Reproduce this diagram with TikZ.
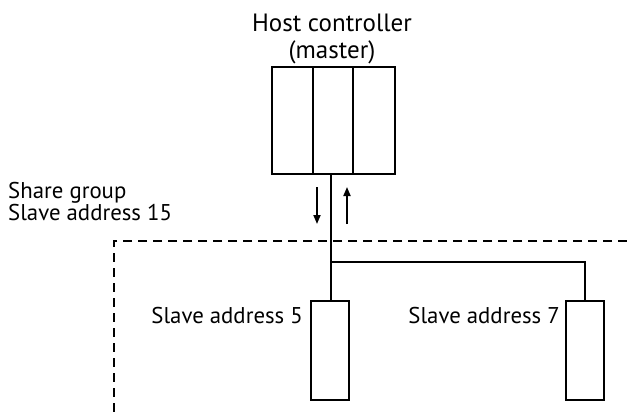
\documentclass[tikz,border=0pt]{standalone}
\usepackage{fontspec}
\setmainfont{PT Sans}
\usetikzlibrary{arrows.meta}
\tikzset{
  box/.style={draw, line width=2.2pt, minimum width=38pt, minimum height=99pt, inner sep=0pt, anchor=north},
  hostbox/.style={draw, line width=2.2pt, minimum width=123pt, minimum height=107pt, inner sep=0pt, anchor=north},
  lbl/.style={font=\fontsize{22.8}{22}\selectfont, inner sep=0pt},
  hlbl/.style={font=\fontsize{25}{26}\selectfont, inner sep=0pt},
  wire/.style={line width=2.2pt},
  flow/.style={line width=1.8pt, -{Triangle[length=9pt,width=7pt]}},
  grp/.style={line width=2.2pt, dash pattern=on 9pt off 6pt}
}
\begin{document}
\begin{tikzpicture}[x=1pt,y=-1pt]
\useasboundingbox (0,0) rectangle (627,418);
\node[hostbox] (host) at (333.5,66) {};
\draw[wire] (313,66) -- (313,173);
\draw[wire] (353,66) -- (353,173);
\node[hlbl, anchor=base] (hostlbl1) at (332,31) {Host controller};
\node[hlbl, anchor=base] (hostlbl2) at (332,58) {(master)};
\node[box] (s5) at (330,300) {};
\node[box] (s7) at (585,300) {};
\coordinate (bus) at (331,173);
\coordinate (junc) at (331,262);
\coordinate (corner) at (585,262);
\draw[wire] (host.south -| bus) -- (s5.north -| bus);
\draw[wire] (junc) -- (corner) -- (s7.north);
\coordinate (dstart) at (627,241);
\coordinate (dcorner) at (114,241);
\coordinate (dend) at (114,418);
\draw[grp] (dstart) -- (dcorner) -- (dend);
\coordinate (a1) at (317,187);
\coordinate (a2) at (317,224);
\coordinate (b1) at (347,224);
\coordinate (b2) at (347,187);
\draw[flow] (a1) -- (a2);
\draw[flow] (b1) -- (b2);
\node[lbl, anchor=base west] (grplbl1) at (8,198) {Share group};
\node[lbl, anchor=base west] (grplbl2) at (8,220) {Slave address 15};
\node[lbl, anchor=base east] (l5) at (303,323) {Slave address 5};
\node[lbl, anchor=base east] (l7) at (560,323) {Slave address 7};
\end{tikzpicture}
\end{document}
